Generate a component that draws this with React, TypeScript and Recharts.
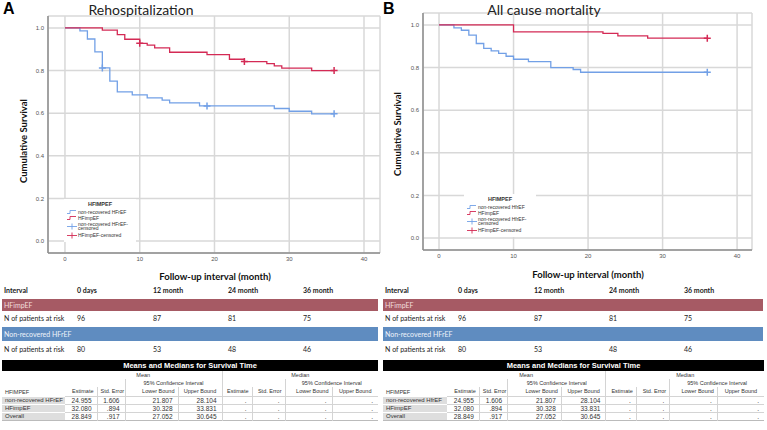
import React from 'react'
import { LineChart, Line, XAxis, YAxis, CartesianGrid } from 'recharts'

const RED = '#d42a55'
const BLUE = '#72a0e6'

// Panel A: rehospitalization (months, cumulative survival)
const rehospImpT = [0, 5, 7, 8, 10, 11, 12, 14, 19, 22, 24, 27, 28, 29, 33, 36]
const rehospImpS = [1, 0.99, 0.969, 0.947, 0.928, 0.919, 0.906, 0.886, 0.875, 0.853, 0.842, 0.833, 0.822, 0.811, 0.8, 0.8]
const rehospImpCens = [10, 24, 36]
const rehospNonT = [0, 2, 3, 4, 5, 6, 7, 9, 11, 13, 14, 18, 19, 28, 30, 33, 36]
const rehospNonS = [1, 0.986, 0.948, 0.888, 0.8125, 0.75, 0.7, 0.686, 0.672, 0.661, 0.648, 0.634, 0.634, 0.622, 0.609, 0.597, 0.597]
const rehospNonCens = [5, 19, 36]

// Panel B: all cause mortality
const mortImpT = [0, 10, 22, 24, 28, 36]
const mortImpS = [1, 0.967, 0.96, 0.949, 0.938, 0.938]
const mortImpCens = [36]
const mortNonT = [0, 2, 3, 4, 5, 6, 7, 8, 9, 10, 12, 15, 18, 19, 36]
const mortNonS = [1, 0.986, 0.975, 0.952, 0.913, 0.89, 0.878, 0.867, 0.853, 0.839, 0.828, 0.8, 0.791, 0.778, 0.778]
const mortNonCens = [36]

const xTicks = [0, 10, 20, 30, 40]
const yTicks = [0, 0.2, 0.4, 0.6, 0.8, 1.0]

// risk table
const intervals = ['0 days', '12 month', '24 month', '36 month']
const riskImp = [96, 87, 81, 75]
const riskNon = [80, 53, 48, 46]

// means and medians table
const meanEst = ['24.955', '32.080', '28.849']
const meanSE = ['1.606', '.894', '.917']
const meanLB = ['21.807', '30.328', '27.052']
const meanUB = ['28.104', '33.831', '30.645']

const FONT = 'Lato, "Liberation Sans", sans-serif'
const SMALL = '"Liberation Sans", Arial, sans-serif'

function buildSeries(times: number[], surv: number[], cens: number[]) {
  return times.map((t, i) => ({ t, s: surv[i], c: cens.includes(t) }))
}

const plusDot = (color: string) => (props: any) => {
  const { cx, cy, payload, index } = props
  if (!payload || !payload.c) return <g key={`d${index}`} />
  return (
    <path
      key={`d${index}`}
      d={`M${cx - 3.5},${cy}h7M${cx},${cy - 3.5}v7`}
      stroke={color}
      strokeWidth={1.5}
      fill="none"
    />
  )
}

interface PanelProps {
  left: number
  width: number
  marginTop: number
  marginRight: number
  yAxisWidth: number
  xDomain: [number, number]
  imp: { t: number; s: number; c: boolean }[]
  non: { t: number; s: number; c: boolean }[]
}

function Panel({ left, width, marginTop, marginRight, yAxisWidth, xDomain, imp, non }: PanelProps) {
  const height = 285
  return (
    <div style={{ position: 'absolute', left, top: 0 }}>
      <LineChart
        width={width}
        height={height}
        margin={{ top: marginTop, right: marginRight, left: 0, bottom: 285 - marginTop - 237 - 20 }}
      >
        <CartesianGrid stroke="#d8d8d8" strokeWidth={1.5} />
        <XAxis
          type="number"
          dataKey="t"
          domain={xDomain}
          ticks={xTicks}
          interval={0}
          allowDataOverflow
          height={20}
          tickLine={false}
          tickSize={0}
          tickMargin={4}
          axisLine={{ stroke: '#8c8c8c', strokeWidth: 1.5 }}
          tick={{ fontSize: 6, fill: '#555', fontFamily: SMALL }}
        />
        <YAxis
          type="number"
          domain={[-0.056, 1.056]}
          ticks={yTicks}
          interval={0}
          allowDataOverflow
          width={yAxisWidth}
          tickLine={false}
          tickSize={0}
          tickMargin={4}
          tickFormatter={(v: number) => v.toFixed(1)}
          axisLine={{ stroke: '#8c8c8c', strokeWidth: 1.5 }}
          tick={{ fontSize: 6, fill: '#555', fontFamily: SMALL }}
        />
        <Line
          data={non}
          dataKey="s"
          type="stepAfter"
          stroke={BLUE}
          strokeWidth={1.3}
          dot={plusDot(BLUE)}
          activeDot={false}
          isAnimationActive={false}
        />
        <Line
          data={imp}
          dataKey="s"
          type="stepAfter"
          stroke={RED}
          strokeWidth={1.3}
          dot={plusDot(RED)}
          activeDot={false}
          isAnimationActive={false}
        />
      </LineChart>
    </div>
  )
}

function Legend({ x, y, nonName }: { x: number; y: number; nonName: string }) {
  const t = { fontSize: 5, fill: '#333', fontFamily: SMALL }
  const step = (yy: number, c: string) => (
    <path d={`M${x + 3},${yy + 1.5}H${x + 6}V${yy - 1.5}H${x + 12}`} stroke={c} strokeWidth={0.9} fill="none" />
  )
  const plus = (yy: number, c: string) => (
    <path d={`M${x + 3},${yy}H${x + 13}M${x + 8},${yy - 3}V${yy + 3}`} stroke={c} strokeWidth={0.9} fill="none" />
  )
  return (
    <svg style={{ position: 'absolute', left: 0, top: 0 }} width={767} height={430}>
      <rect x={x} y={y - 5} width={72} height={43} fill="#fff" />
      <text x={x + 36} y={y + 1.5} textAnchor="middle" style={{ ...t, fontSize: 5.5, fontWeight: 700 }}>HFIMPEF</text>
      {step(y + 8, BLUE)}
      <text x={x + 14} y={y + 9.8} style={t}>{nonName}</text>
      {step(y + 14, RED)}
      <text x={x + 14} y={y + 15.8} style={t}>HFimpEF</text>
      {plus(y + 22.5, BLUE)}
      <text x={x + 14} y={y + 21.8} style={t}>{nonName}-</text>
      <text x={x + 14} y={y + 26.3} style={t}>censored</text>
      {plus(y + 31.5, RED)}
      <text x={x + 14} y={y + 33.3} style={t}>HFimpEF-censored</text>
    </svg>
  )
}

function abs(left: number, top: number, extra: React.CSSProperties = {}): React.CSSProperties {
  return { position: 'absolute', left, top, whiteSpace: 'nowrap', ...extra }
}

function RiskTable({ ox, w }: { ox: number; w: number }) {
  const cols = [77, 153, 228, 303]
  const txt: React.CSSProperties = { fontSize: 7, fontFamily: FONT, color: '#222', lineHeight: '8px' }
  return (
    <>
      <div style={abs(ox + 4, 286, { ...txt, fontWeight: 700 })}>Interval</div>
      {intervals.map((s, i) => (
        <div key={s} style={abs(ox + cols[i], 286, { ...txt, fontWeight: 700 })}>{s}</div>
      ))}
      <div style={abs(ox + 2, 299, { width: w, height: 12, background: '#a65a64' })} />
      <div style={abs(ox + 4, 301, { ...txt, color: '#f3dede' })}>HFimpEF</div>
      <div style={abs(ox + 4, 314, txt)}>N of patients at risk</div>
      {riskImp.map((v, i) => (
        <div key={i} style={abs(ox + cols[i], 314, txt)}>{v}</div>
      ))}
      <div style={abs(ox + 2, 327, { width: w, height: 14, background: '#5f8cc0' })} />
      <div style={abs(ox + 4, 330, { ...txt, color: '#eef3fa' })}>Non-recovered HFrEF</div>
      <div style={abs(ox + 4, 345, txt)}>N of patients at risk</div>
      {riskNon.map((v, i) => (
        <div key={i} style={abs(ox + cols[i], 345, txt)}>{v}</div>
      ))}
    </>
  )
}

function MeansTable({ ox, w, nonName }: { ox: number; w: number; nonName: string }) {
  const base = [63, 32, 28, 53, 44, 30, 33, 47, 46]
  const k = w / 376
  const cw = base.map(v => v * k)
  const line = '1px solid #d4d4d4'
  const cell: React.CSSProperties = {
    padding: '0 3px',
    fontSize: 5.5,
    fontFamily: SMALL,
    color: '#333',
    whiteSpace: 'nowrap',
    overflow: 'hidden',
  }
  const num: React.CSSProperties = { ...cell, fontSize: 6.5, textAlign: 'right', borderLeft: line, borderTop: line, paddingRight: 5 }
  const lab: React.CSSProperties = { ...cell, fontSize: 6, background: '#dedede', borderTop: '1px solid #fff' }
  const names = [nonName, 'HFimpEF', 'Overall']
  return (
    <div style={abs(ox + 2, 360, { width: w })}>
      <table style={{ borderCollapse: 'collapse', tableLayout: 'fixed', width: w }}>
        <colgroup>
          {cw.map((v, i) => <col key={i} style={{ width: v }} />)}
        </colgroup>
        <tbody>
          <tr style={{ height: 11 }}>
            <td colSpan={9} style={{ background: '#000', color: '#fff', fontWeight: 700, fontSize: 7.5, fontFamily: SMALL, textAlign: 'center', padding: 0 }}>
              Means and Medians for Survival Time
            </td>
          </tr>
          <tr style={{ height: 8 }}>
            <td rowSpan={3} style={{ ...cell, verticalAlign: 'bottom', paddingBottom: 1 }}>HFIMPEF</td>
            <td colSpan={4} style={{ ...cell, textAlign: 'center' }}>Mean</td>
            <td colSpan={4} style={{ ...cell, textAlign: 'center', borderLeft: line }}>Median</td>
          </tr>
          <tr style={{ height: 8 }}>
            <td colSpan={2} rowSpan={1} style={cell} />
            <td colSpan={2} style={{ ...cell, textAlign: 'center', borderLeft: line }}>95% Confidence Interval</td>
            <td colSpan={2} style={{ ...cell, borderLeft: line }} />
            <td colSpan={2} style={{ ...cell, textAlign: 'center', borderLeft: line }}>95% Confidence Interval</td>
          </tr>
          <tr style={{ height: 9 }}>
            {['Estimate', 'Std. Error', 'Lower Bound', 'Upper Bound', 'Estimate', 'Std. Error', 'Lower Bound', 'Upper Bound'].map((h, i) => (
              <td key={i} style={{ ...cell, textAlign: i === 3 || i === 7 ? 'center' : 'right', borderLeft: i === 0 ? 'none' : line }}>{h}</td>
            ))}
          </tr>
          {names.map((n, r) => (
            <tr key={n} style={{ height: 8, borderBottom: r === 2 ? '1px solid #bbb' : undefined }}>
              <td style={lab}>{n}</td>
              <td style={{ ...num, borderLeft: 'none' }}>{meanEst[r]}</td>
              <td style={num}>{meanSE[r]}</td>
              <td style={num}>{meanLB[r]}</td>
              <td style={num}>{meanUB[r]}</td>
              <td style={num}>.</td>
              <td style={num}>.</td>
              <td style={num}>.</td>
              <td style={num}>.</td>
            </tr>
          ))}
        </tbody>
      </table>
    </div>
  )
}

export default function App() {
  const axisLabel: React.CSSProperties = { fontSize: 9.5, fontWeight: 700, fontFamily: FONT, color: '#111' }
  const letter: React.CSSProperties = { fontSize: 16, lineHeight: '16px', fontWeight: 700, fontFamily: SMALL }
  return (
    <div style={{ position: 'absolute', left: 0, top: 0, width: 767, height: 430, background: '#fff', overflow: 'hidden' }}>
      <Panel
        left={0}
        width={390}
        marginTop={16}
        marginRight={10}
        yAxisWidth={48}
        xDomain={[-2.27, 42.14]}
        imp={buildSeries(rehospImpT, rehospImpS, rehospImpCens)}
        non={buildSeries(rehospNonT, rehospNonS, rehospNonCens)}
      />
      <Panel
        left={380}
        width={385}
        marginTop={13}
        marginRight={13}
        yAxisWidth={43}
        xDomain={[-2.15, 42.0]}
        imp={buildSeries(mortImpT, mortImpS, mortImpCens)}
        non={buildSeries(mortNonT, mortNonS, mortNonCens)}
      />
      <Legend x={64} y={204} nonName="non-recovered HFrEF" />
      <Legend x={464} y={199} nonName="non-recovered HfrEF" />

      <div style={abs(3, 1, letter)}>A</div>
      <div style={abs(383, 1, letter)}>B</div>
      <div style={abs(141, 10, { fontSize: 14, lineHeight: '16px', fontFamily: FONT, color: '#222', transform: 'translate(-50%,-50%)' })}>Rehospitalization</div>
      <div style={abs(544, 10, { fontSize: 14, lineHeight: '16px', fontFamily: FONT, color: '#222', transform: 'translate(-50%,-50%)' })}>All cause mortality</div>

      <div style={abs(23, 141, { ...axisLabel, transform: 'translate(-50%,-50%) rotate(-90deg)' })}>Cumulative Survival</div>
      <div style={abs(397, 134, { ...axisLabel, transform: 'translate(-50%,-50%) rotate(-90deg)' })}>Cumulative Survival</div>
      <div style={abs(215, 276, { ...axisLabel, transform: 'translate(-50%,-50%)' })}>Follow-up interval (month)</div>
      <div style={abs(588, 274, { ...axisLabel, transform: 'translate(-50%,-50%)' })}>Follow-up interval (month)</div>

      <RiskTable ox={0} w={376} />
      <RiskTable ox={381} w={380} />
      <MeansTable ox={0} w={376} nonName="non-recovered HFrEF" />
      <MeansTable ox={381} w={381} nonName="non-recovered HfrEF" />
    </div>
  )
}
